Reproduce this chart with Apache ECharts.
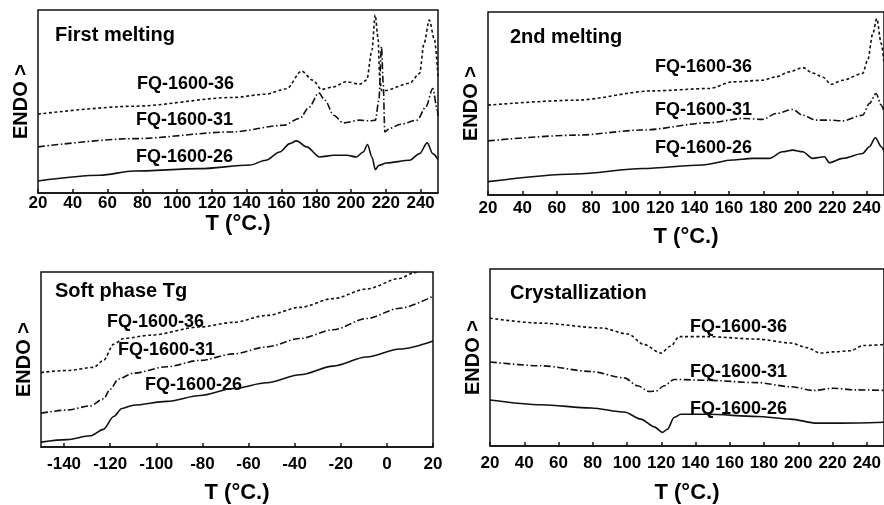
<!DOCTYPE html>
<html><head><meta charset="utf-8">
<script src="https://cdn.jsdelivr.net/npm/echarts@6/dist/echarts.min.js"></script>
<style>html,body{margin:0;padding:0;background:#fff}#c{width:884px;height:505px}</style>
</head><body><div id="c"></div>
<script>
// ---- data (temperature °C, relative heat flow, arbitrary units) ----
const panelTitles = ['First melting', '2nd melting', 'Soft phase Tg', 'Crystallization'];
const sampleNames = ['FQ-1600-36', 'FQ-1600-31', 'FQ-1600-26'];
const ticksHot = [20, 40, 60, 80, 100, 120, 140, 160, 180, 200, 220, 240];
const ticksCold = [-140, -120, -100, -80, -60, -40, -20, 0, 20];

const fm36 = [[20,43.1],[75,47.4],[132,52.2],[151,54],[163,57],[171.5,66.6],[178,61.7],[183,56.6],[190,58],[197,60.8],[205,59.5],[209,61.7],[212,78],[213.9,97.3],[215.5,85],[216.5,63],[217.5,56],[219.5,56],[233.7,60],[239.4,65.3],[242,81.8],[245,94.5],[248,83.6],[250,63.5]];
const fm31 = [[20,25.2],[75,29.7],[132,33.4],[161,37],[170.5,40.7],[176,47],[181.4,54.7],[185,50.7],[190,42.5],[195.5,38.3],[205,39.8],[211,39.4],[214,39.8],[216,50.7],[217.5,80],[218.5,60],[219.4,33.4],[222,35.2],[228.5,37.6],[238,39.8],[243,47],[247,57.1],[249.6,45.3],[250,42]];
const fm26 = [[20,6.6],[55.7,9.7],[75,12],[113,13.3],[142,15.3],[151,17.9],[159,22.4],[164.8,27],[168.6,28.5],[174.5,25.2],[182,19.7],[190,20.6],[197.7,20.6],[203,19.7],[207,22.4],[209.5,26.5],[212,19.7],[214,12.8],[216,15.1],[220.3,16.4],[233.7,17.9],[239.4,21.5],[243.8,27.4],[247,21.5],[250,18.2]];

const sm36 = [[20,49.1],[71,51.8],[115.6,56.9],[148.5,58.2],[162,61.8],[179.5,62.7],[187.3,64.5],[195,67.3],[202.8,69.6],[208.6,66.7],[214.4,64.5],[219.2,60.5],[226,62.7],[237.6,66.4],[240.5,73.6],[243.5,88.2],[245.8,96.4],[248.4,82.7],[250,72]];
const sm31 = [[20,29.6],[71,32.7],[109.8,35.5],[148.5,39.5],[168,41.8],[179.5,41.3],[187.3,44.5],[197,46.7],[202.8,43.6],[210.6,40.9],[218.3,40.9],[226,40.5],[237.6,43.6],[241.5,50],[245.4,55.5],[248.4,49.1],[250,45.5]];
const sm26 = [[20,7.3],[71,11.5],[109.8,14.5],[144.6,16.4],[162,19.1],[173.7,20],[183.4,20],[191,23.6],[197,24.5],[202.8,23.6],[208.6,20],[215.4,20.9],[218.3,17.6],[226,20],[237.6,22.7],[241.5,26.4],[245,31.3],[248.4,26.4],[250,24]];

const sp36 = [[-150,42.6],[-138.7,43.7],[-127.2,45.5],[-122.9,49.5],[-118.5,58.7],[-114.2,62],[-102.6,63.9],[-81,68.6],[-66.6,71.2],[-52.1,75.2],[-37.7,79.8],[-23.3,84.8],[-8.8,90.3],[5.6,96.3],[11.4,99.4],[13,100]];
const sp31 = [[-150,19.3],[-138.7,21.1],[-128.6,23.5],[-122.9,27.5],[-120,33],[-116.4,38.9],[-109.9,42.2],[-95.4,45.9],[-81,49.5],[-66.6,53.2],[-52.1,57.2],[-37.7,62],[-23.3,67],[-8.8,73.4],[5.6,79.3],[20,86.2]];
const sp26 = [[-150,2.8],[-138.7,4.2],[-128.6,6.4],[-122.9,10.1],[-118.5,17.4],[-114.9,22],[-109.9,23.9],[-95.4,26.1],[-81,29.4],[-66.6,33.4],[-52.1,36.7],[-37.7,41.3],[-23.3,46.2],[-8.8,51.4],[5.6,56],[20,60.6]];

const cr36 = [[20,72.2],[50,69.4],[85,66.7],[100.4,63.3],[110,57.3],[119.8,52.5],[125.6,56.5],[130.4,61.8],[147,61.8],[176,60.4],[195.4,58.2],[205,55.6],[212.8,52.5],[220.6,53.2],[230.3,53.8],[238,56.8],[250,57.3]];
const cr31 = [[20,47.5],[50,45.3],[79,42.1],[98.4,38.5],[106.2,34],[113,30.8],[116.9,31],[121.7,34],[127.5,37.6],[147,37.1],[176,35.8],[195.4,33.5],[209,31.4],[220.6,32.6],[234,31.7],[250,31.4]];
const cr26 = [[20,26],[50,23.3],[79,21.5],[98.4,19.2],[108,15.2],[115.9,10.8],[120.8,7.7],[123.6,9.5],[127.5,16.1],[131.4,17.9],[147,17.9],[176,16.7],[195.4,15.2],[210.9,12.9],[224.5,12.9],[250,13.4]];

// ---- layout / styling ----
const FONT = '"Liberation Sans", Arial, sans-serif';
const panelData = [[fm36, fm31, fm26], [sm36, sm31, sm26], [sp36, sp31, sp26], [cr36, cr31, cr26]];
const grids = [
  {left: 38, top: 10, width: 400, height: 183},
  {left: 488, top: 12, width: 398, height: 183},
  {left: 41, top: 272, width: 392, height: 181},
  {left: 490, top: 269, width: 397, height: 186}
];
const xRanges = [[20, 250], [20, 250], [-150, 20], [20, 250]];
const xTicks = [ticksHot, ticksHot, ticksCold, ticksHot];
const labelMargin = [2, 5, 9, 9];
const nameGaps = [19, 31, 35, 36];
const dashes = [[3, 2.5], [7, 2.5, 1.5, 2.5], 'solid'];
// label positions (pixels): [x, y] for title, then 36, 31, 26
const textPos = [
  [[55, 35], [137, 84], [136, 120], [136, 157]],
  [[510, 37], [655, 67], [655, 110], [655, 148]],
  [[55, 291], [107, 322], [118, 350], [145, 385]],
  [[510, 293], [690, 327], [690, 372], [690, 409]]
];

const option = {
  animation: false,
  backgroundColor: '#fff',
  grid: grids.map(g => Object.assign({show: true, borderColor: '#111', borderWidth: 1.5, backgroundColor: 'transparent'}, g)),
  xAxis: grids.map((g, i) => ({
    type: 'value', gridIndex: i, min: xRanges[i][0], max: xRanges[i][1],
    name: 'T (°C.)', nameLocation: 'middle', nameGap: nameGaps[i],
    nameTextStyle: {fontFamily: FONT, fontWeight: 'bold', fontSize: 22, color: '#000'},
    axisLine: {show: true, lineStyle: {color: '#111', width: 1.5}},
    axisTick: {show: true, inside: true, length: 4, customValues: xTicks[i], lineStyle: {color: '#111', width: 1.5}},
    axisLabel: {show: true, customValues: xTicks[i], margin: labelMargin[i], fontFamily: FONT, fontWeight: 'bold', fontSize: 17, color: '#000'},
    splitLine: {show: false}
  })),
  yAxis: grids.map((g, i) => ({
    type: 'value', gridIndex: i, min: 0, max: 100,
    name: 'ENDO >', nameLocation: 'middle', nameRotate: 90, nameGap: 7,
    nameTextStyle: {fontFamily: FONT, fontWeight: 'bold', fontSize: 20, color: '#000'},
    axisLine: {show: false}, axisTick: {show: false}, axisLabel: {show: false}, splitLine: {show: false}
  })),
  series: [],
  graphic: []
};

panelData.forEach((set, p) => {
  set.forEach((d, k) => {
    option.series.push({
      type: 'line', xAxisIndex: p, yAxisIndex: p, data: d, showSymbol: false,
      smooth: 0.3, smoothMonotone: 'x', clip: true,
      lineStyle: {color: '#111', width: 1.6, type: dashes[k]}
    });
  });
  const pos = textPos[p];
  option.graphic.push({type: 'text', x: pos[0][0], y: pos[0][1],
    style: {text: panelTitles[p], font: 'bold 20px ' + FONT, fill: '#000', verticalAlign: 'middle'}});
  sampleNames.forEach((n, k) => {
    option.graphic.push({type: 'text', x: pos[k + 1][0], y: pos[k + 1][1],
      style: {text: n, font: 'bold 18px ' + FONT, fill: '#000', verticalAlign: 'middle'}});
  });
});

const chart = echarts.init(document.getElementById('c'), null, {renderer: 'canvas'});
chart.setOption(option);
</script>
</body></html>
